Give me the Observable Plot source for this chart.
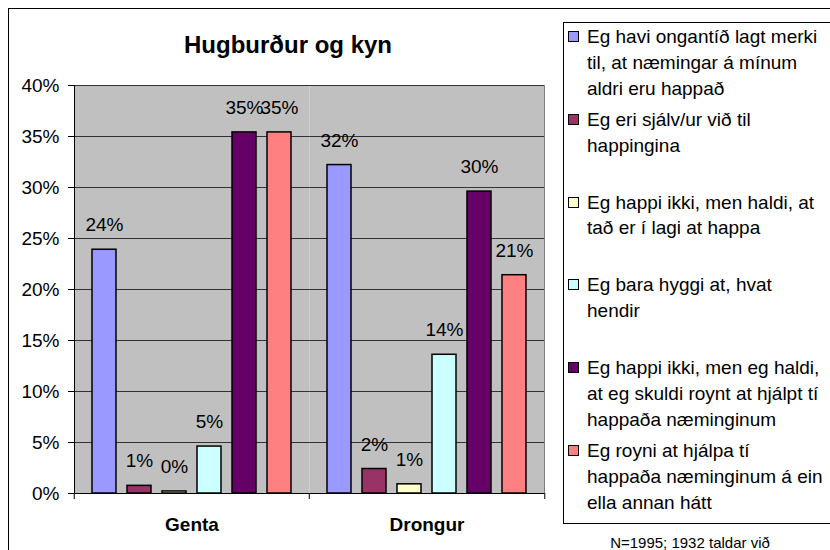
<!DOCTYPE html>
<html>
<head>
<meta charset="utf-8">
<script src="https://cdn.jsdelivr.net/npm/d3@7"></script>
<script src="https://cdn.jsdelivr.net/npm/@observablehq/plot@0.6"></script>
<style>
  html, body { margin: 0; padding: 0; background: #fff; }
  #wrap { position: relative; width: 830px; height: 550px; overflow: hidden; font-family: "Liberation Sans", Arial, sans-serif; color: #000; }
  #outer { position: absolute; left: 8px; top: 8px; width: 1000px; height: 1000px; border: 1px solid #000; box-sizing: border-box; }
  #chart { position: absolute; left: 0; top: 0; }
  #title { position: absolute; left: 0; width: 576px; top: 32.7px; line-height: 24px; font-size: 24px; font-weight: bold; text-align: center; white-space: nowrap; }
  #legend { position: absolute; left: 563px; top: 22px; width: 400px; height: 502px; border: 1px solid #000; box-sizing: border-box; background: #fff; }
  .sw { position: absolute; width: 11px; height: 11px; border: 1px solid #000; box-sizing: border-box; }
  .lt { position: absolute; font-size: 19px; line-height: 25.8px; white-space: pre; }
  #caption { position: absolute; left: 540px; width: 300px; top: 534.3px; font-size: 15px; line-height: 17px; text-align: center; white-space: nowrap; }
</style>
</head>
<body>
<div id="wrap">
  <div id="outer"></div>
  <div id="chart"></div>
  <div id="title"></div>
  <div id="legend"></div>
  <div id="caption"></div>
</div>
<script>
// ---- data ----
const title = "Hugburður og kyn";
const caption = "N=1995; 1932 taldar við";
const groups = ["Genta", "Drongur"];
const series = [
  "Eg havi ongantíð lagt merki\ntil, at næmingar á mínum\naldri eru happað",
  "Eg eri sjálv/ur við til\nhappingina",
  "Eg happi ikki, men haldi, at\ntað er í lagi at happa",
  "Eg bara hyggi at, hvat\nhendir",
  "Eg happi ikki, men eg haldi,\nat eg skuldi roynt at hjálpt tí\nhappaða næminginum",
  "Eg royni at hjálpa tí\nhappaða næminginum á ein\nella annan hátt"
];
const colors = ["#9999FF", "#993366", "#FFFFCC", "#CCFFFF", "#660066", "#FF8080"];
const gentaValues = [23.9, 0.75, 0.2, 4.6, 35.4, 35.4];
const drongurValues = [32.2, 2.4, 0.9, 13.6, 29.6, 21.4];
const yTicks = [0, 5, 10, 15, 20, 25, 30, 35, 40];

// ---- table ----
const valuesByGroup = [gentaValues, drongurValues];
const data = groups.flatMap((g, gi) => series.map((s, si) => ({group: g, series: s, value: valuesByGroup[gi][si]})));

// ---- chart ----
const W = 560, H = 550, mL = 73, mR = 16, mT = 85, mB = 57;
const facetW = (W - mL - mR) / groups.length;
const font = "'Liberation Sans', Arial, sans-serif";
const lastGroup = groups[groups.length - 1];

const chart = Plot.plot({
  width: W, height: H,
  marginLeft: mL, marginRight: mR, marginTop: mT, marginBottom: mB,
  style: {fontFamily: font, fontSize: "19px", background: "transparent", color: "#000", overflow: "visible"},
  fx: {domain: groups, padding: 0, label: null, axis: null},
  x: {domain: series, paddingInner: 0.32, paddingOuter: 0.5, axis: null},
  y: {domain: [0, 40], axis: null},
  color: {domain: series, range: colors},
  marks: [
    Plot.frame({fill: "#C0C0C0", stroke: "none"}),
    Plot.ruleY(yTicks, {stroke: "#333", strokeWidth: 1}),
    Plot.frame({facet: "super", anchor: "right", stroke: "#808080"}),
    Plot.barY(data, {fx: "group", x: "series", y: "value", fill: "series", stroke: "#000", strokeWidth: 1.5}),
    Plot.text(data, {fx: "group", x: "series", y: "value", text: d => Math.round(d.value) + "%", lineAnchor: "bottom", dy: -18.5, fontSize: 19, fill: "#000"}),
    Plot.frame({facet: "super", anchor: "left", stroke: "#000"}),
    Plot.ruleY([0], {stroke: "#000"}),
    Plot.axisY({ticks: yTicks, tickSize: 6, tickPadding: 9, tickFormat: d => d + "%", fontSize: 19, label: null}),
    Plot.axisFx({anchor: "bottom", tickSize: 0, tickPadding: 24, fontWeight: "bold", fontSize: 19, label: null}),
    Plot.axisFx({anchor: "bottom", tickSize: 6, tickFormat: () => "", dx: -facetW / 2, label: null}),
    Plot.axisFx({anchor: "bottom", ticks: [lastGroup], tickSize: 6, tickFormat: () => "", dx: facetW / 2, label: null})
  ]
});
document.getElementById("chart").appendChild(chart);

// ---- title, legend, caption ----
document.getElementById("title").textContent = title;
document.getElementById("caption").textContent = caption;
const legend = document.getElementById("legend");
const slot = 82.8;
series.forEach((s, i) => {
  const sw = document.createElement("div");
  sw.className = "sw";
  sw.style.left = (568 - 563 - 1) + "px";
  sw.style.top = (31 - 22 - 1 + slot * i) + "px";
  sw.style.background = colors[i];
  legend.appendChild(sw);
  const t = document.createElement("div");
  t.className = "lt";
  t.style.left = (587 - 563 - 1) + "px";
  t.style.top = (24 - 22 - 1 + slot * i) + "px";
  t.textContent = s;
  legend.appendChild(t);
});
</script>
</body>
</html>
